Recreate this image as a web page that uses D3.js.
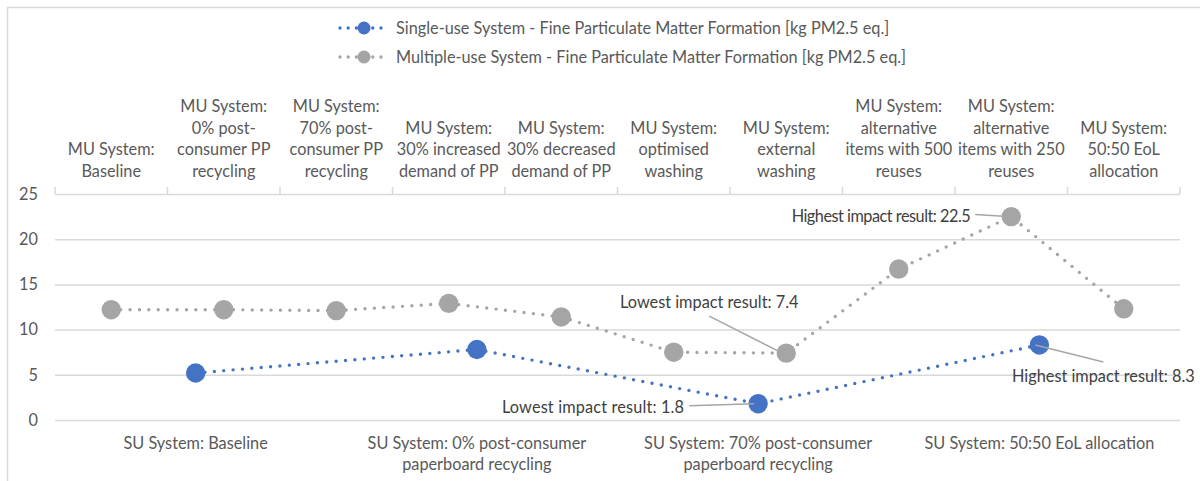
<!DOCTYPE html>
<html>
<head>
<meta charset="utf-8">
<script src="https://cdn.jsdelivr.net/npm/d3@7"></script>
<style>
  body { margin: 0; background: #fff; }
  text { font-family: Lato, "Liberation Sans", sans-serif; }
</style>
</head>
<body>
<script>
// top axis: multiple-use scenarios
var muCategories = [
  ['MU System:', 'Baseline'],
  ['MU System:', '0% post-', 'consumer PP', 'recycling'],
  ['MU System:', '70% post-', 'consumer PP', 'recycling'],
  ['MU System:', '30% increased', 'demand of PP'],
  ['MU System:', '30% decreased', 'demand of PP'],
  ['MU System:', 'optimised', 'washing'],
  ['MU System:', 'external', 'washing'],
  ['MU System:', 'alternative', 'items with 500', 'reuses'],
  ['MU System:', 'alternative', 'items with 250', 'reuses'],
  ['MU System:', '50:50 EoL', 'allocation']
];
var muValues = [12.2, 12.2, 12.1, 12.9, 11.4, 7.5, 7.4, 16.7, 22.5, 12.3];

// bottom axis: single-use scenarios
var suCategories = [
  ['SU System: Baseline'],
  ['SU System: 0% post-consumer', 'paperboard recycling'],
  ['SU System: 70% post-consumer', 'paperboard recycling'],
  ['SU System: 50:50 EoL allocation']
];
var suValues = [5.2, 7.8, 1.8, 8.3];

var yTicks = [0, 5, 10, 15, 20, 25];

var seriesNames = [
  'Single-use System - Fine Particulate Matter Formation [kg PM2.5 eq.]',
  'Multiple-use System - Fine Particulate Matter Formation [kg PM2.5 eq.]'
];

var callouts = [
  { series: 'mu', index: 8, text: 'Highest impact result: 22.5' },
  { series: 'mu', index: 6, text: 'Lowest impact result: 7.4' },
  { series: 'su', index: 3, text: 'Highest impact result: 8.3' },
  { series: 'su', index: 2, text: 'Lowest impact result: 1.8' }
];

var w = 1200,
    h = 481,
    plotLeft = 55,
    plotRight = 1180,
    plotTop = 194,
    plotBottom = 420,
    fs = '16.3px';

var blue = '#4472C4',
    grey = '#A5A5A5',
    textColor = '#595959',
    gridColor = '#D9D9D9';

var svg = d3.select('body').append('svg')
  .attr('width', w)
  .attr('height', h);

// chart area border
svg.append('rect')
  .attr('x', 7.5).attr('y', 7.5)
  .attr('width', w).attr('height', h)
  .attr('fill', 'none')
  .attr('stroke', gridColor)
  .attr('stroke-width', 1.5);

var y = d3.scaleLinear().domain([0, 25]).range([plotBottom, plotTop]);

var xMu = d3.scaleBand()
  .domain(d3.range(muValues.length))
  .range([plotLeft, plotRight]);

var xSu = d3.scaleBand()
  .domain(d3.range(suValues.length))
  .range([plotLeft, plotRight]);

// gridlines + y labels
var yAxis = d3.axisLeft(y).tickValues(yTicks).tickSize(-(plotRight - plotLeft)).tickPadding(17);
svg.append('g')
  .attr('transform', 'translate(' + plotLeft + ',0)')
  .call(yAxis)
  .call(function(g) {
    g.select('.domain').remove();
    g.selectAll('.tick line').attr('stroke', gridColor).attr('stroke-width', 1.5);
    g.selectAll('.tick text')
      .attr('fill', textColor)
      .style('font-size', fs)
      .style('font-family', 'Lato, sans-serif');
  });

// top axis tick marks at band edges
var edges = d3.range(muValues.length + 1).map(function(i) {
  return i < muValues.length ? xMu(i) : plotRight;
});
svg.append('g').selectAll('line')
  .data(edges)
  .enter()
  .append('line')
    .attr('x1', function(d) { return d; })
    .attr('x2', function(d) { return d; })
    .attr('y1', plotTop)
    .attr('y2', plotTop - 7)
    .attr('stroke', gridColor)
    .attr('stroke-width', 1.5);

// top category labels, bottom aligned
var lineH = 21.7;
svg.append('g').selectAll('text')
  .data(muCategories)
  .enter()
  .append('text')
    .attr('fill', textColor)
    .style('font-size', fs)
    .attr('text-anchor', 'middle')
    .each(function(lines, i) {
      var t = d3.select(this);
      var cx = xMu(i) + xMu.bandwidth() / 2;
      lines.forEach(function(l, j) {
        t.append('tspan')
          .attr('x', cx)
          .attr('y', 177 - (lines.length - 1 - j) * lineH)
          .text(l);
      });
    });

// bottom category labels, top aligned
svg.append('g').selectAll('text')
  .data(suCategories)
  .enter()
  .append('text')
    .attr('fill', textColor)
    .style('font-size', fs)
    .attr('text-anchor', 'middle')
    .each(function(lines, i) {
      var t = d3.select(this);
      var cx = xSu(i) + xSu.bandwidth() / 2;
      lines.forEach(function(l, j) {
        t.append('tspan')
          .attr('x', cx)
          .attr('y', 448.5 + j * lineH)
          .text(l);
      });
    });

function muX(i) { return xMu(i) + xMu.bandwidth() / 2; }
function suX(i) { return xSu(i) + xSu.bandwidth() / 2; }

function drawSeries(values, xf, color) {
  var line = d3.line()
    .x(function(d, i) { return xf(i); })
    .y(function(d) { return y(d); });
  svg.append('path')
    .datum(values)
    .attr('d', line)
    .attr('fill', 'none')
    .attr('stroke', color)
    .attr('stroke-width', 3.4)
    .attr('stroke-linecap', 'round')
    .attr('stroke-dasharray', '0 9.4');
  svg.append('g').selectAll('circle')
    .data(values)
    .enter()
    .append('circle')
      .attr('cx', function(d, i) { return xf(i); })
      .attr('cy', function(d) { return y(d); })
      .attr('r', 9.7)
      .attr('fill', color);
}

drawSeries(muValues, muX, grey);
drawSeries(suValues, suX, blue);

// callouts: label offset from point, leader start offset
var calloutLayout = [
  { dx: -41, dy: 5, anchor: 'end', lx: -36, ly: -2, ls: -0.5 },
  { dx: -77, dy: -45, anchor: 'middle', lx: -77, ly: -37, ls: 0 },
  { dx: 64, dy: 37, anchor: 'middle', lx: 64, ly: 17, ls: 0 },
  { dx: -74, dy: 9, anchor: 'end', lx: -69, ly: 2, ls: 0.15 }
];

var cg = svg.append('g');
callouts.forEach(function(c, k) {
  var vals = c.series === 'mu' ? muValues : suValues;
  var px = c.series === 'mu' ? muX(c.index) : suX(c.index);
  var py = y(vals[c.index]);
  var L = calloutLayout[k];
  cg.append('line')
    .attr('x1', px + L.lx).attr('y1', py + L.ly)
    .attr('x2', px - 4).attr('y2', py)
    .attr('stroke', '#A6A6A6')
    .attr('stroke-width', 1.5);
  cg.append('text')
    .attr('x', px + L.dx)
    .attr('y', py + L.dy)
    .attr('text-anchor', L.anchor)
    .attr('fill', '#404040')
    .style('font-size', fs)
    .style('letter-spacing', L.ls + 'px')
    .text(c.text);
});

// legend
var legend = svg.append('g');
[blue, grey].forEach(function(color, i) {
  var ly = 28 + i * 29;
  legend.append('line')
    .attr('x1', 340).attr('x2', 389)
    .attr('y1', ly).attr('y2', ly)
    .attr('stroke', color)
    .attr('stroke-width', 3.4)
    .attr('stroke-linecap', 'round')
    .attr('stroke-dasharray', '0 8.2');
  legend.append('circle')
    .attr('cx', 364).attr('cy', ly).attr('r', 6.5)
    .attr('fill', color);
  legend.append('text')
    .attr('x', 396)
    .attr('y', ly + 5.5)
    .attr('fill', textColor)
    .style('font-size', fs)
    .text(seriesNames[i]);
});
</script>
</body>
</html>
